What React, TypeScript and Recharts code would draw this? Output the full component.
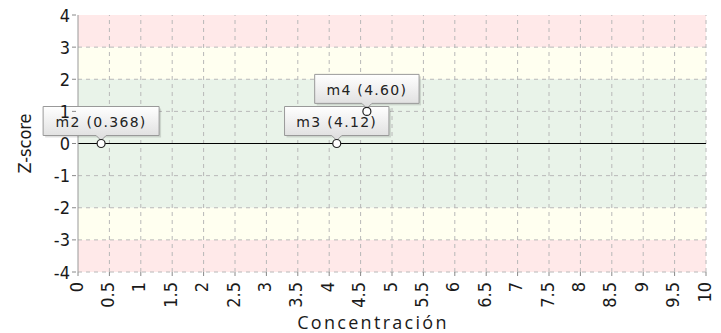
import { ScatterChart, Scatter, XAxis, YAxis, ReferenceArea, ReferenceLine } from "recharts";

const markerNames = ["m2", "m3", "m4"];
const markerX = [0.368, 4.12, 4.6];
const markerY = [0, 0, 1];
const markerText = ["0.368", "4.12", "4.60"];

const xTicks = [0, 0.5, 1, 1.5, 2, 2.5, 3, 3.5, 4, 4.5, 5, 5.5, 6, 6.5, 7, 7.5, 8, 8.5, 9, 9.5, 10];
const yTicks = [-4, -3, -2, -1, 0, 1, 2, 3, 4];

const bands = [
  { from: 3, to: 4, color: "#ffe9e9" },
  { from: 2, to: 3, color: "#fffff0" },
  { from: -2, to: 2, color: "#e9f3e9" },
  { from: -3, to: -2, color: "#fffff0" },
  { from: -4, to: -3, color: "#ffe9e9" },
];

const data = markerNames.map((name, i) => ({
  name,
  x: markerX[i],
  y: markerY[i],
  label: `${name} (${markerText[i]})`,
}));

const tickFont = "'DejaVu Sans Condensed', 'DejaVu Sans', sans-serif";

function XTick({ x, y, payload }: any) {
  return (
    <g>
      <line x1={x} y1={y - 8} x2={x} y2={y - 4} stroke="#888" />
      <text
        x={x}
        y={y}
        transform={`rotate(-90 ${x} ${y + 2})`}
        textAnchor="end"
        dominantBaseline="central"
        fontSize={18}
        fontFamily={tickFont}
        fill="#1a1a1a"
      >
        {payload.value}
      </text>
    </g>
  );
}

function YTick({ x, y, payload }: any) {
  return (
    <g>
      <line x1={x + 2} y1={y} x2={x + 6} y2={y} stroke="#888" />
      <text x={x} y={y} textAnchor="end" dominantBaseline="central" fontSize={18} fontFamily={tickFont} fill="#1a1a1a">
        {payload.value}
      </text>
    </g>
  );
}

function Marker({ cx, cy, payload }: any) {
  const label: string = payload.label;
  const w = label.length * 11.6;
  const h = 29;
  const bottom = cy - 8;
  const top = bottom - h;
  const left = cx - w / 2;
  return (
    <g>
      <rect x={left + 2} y={top + 2} width={w} height={h} fill="#000" opacity={0.12} />
      <path
        d={`M${left},${top} H${left + w} V${bottom} H${cx + 5} L${cx},${cy - 3} L${cx - 5},${bottom} H${left} Z`}
        fill="url(#calloutGrad)"
        stroke="#999"
      />
      <text
        x={cx}
        y={top + h / 2 + 1}
        textAnchor="middle"
        dominantBaseline="central"
        fontSize={14}
        letterSpacing={1.3}
        fontFamily="'DejaVu Sans', sans-serif"
        fill="#222"
      >
        {label}
      </text>
      <circle cx={cx} cy={cy} r={4} fill="#fff" stroke="#222" strokeWidth={1.2} />
    </g>
  );
}

export default function App() {
  return (
    <div style={{ position: "absolute", left: 0, top: 0, width: 721, height: 333, background: "#fff" }}>
      <ScatterChart width={721} height={333} margin={{ top: 15, right: 15, left: 0, bottom: 0 }}>
        <defs>
          <linearGradient id="calloutGrad" x1="0" y1="0" x2="0" y2="1">
            <stop offset="0%" stopColor="#ffffff" />
            <stop offset="100%" stopColor="#dcdcdc" />
          </linearGradient>
        </defs>
        {bands.map((b, i) => (
          <ReferenceArea key={i} y1={b.from} y2={b.to} x1={0} x2={10} fill={b.color} fillOpacity={1} stroke="none" ifOverflow="visible" />
        ))}
        {xTicks.slice(1).map((t) => (
          <ReferenceLine key={`gx${t}`} x={t} stroke="#b8b8b8" strokeDasharray="4 4" />
        ))}
        {yTicks.slice(0, -1).map((t) => (
          <ReferenceLine key={`gy${t}`} y={t} stroke="#b8b8b8" strokeDasharray="4 4" />
        ))}
        <XAxis
          type="number"
          dataKey="x"
          domain={[0, 10]}
          ticks={xTicks}
          interval={0}
          height={61}
          axisLine={false}
          tickLine={false}
          tick={<XTick />}
          label={{
            value: "Concentración",
            position: "insideBottom",
            offset: 4,
            dx: -19,
            fontSize: 18,
            letterSpacing: 2.3,
            fontFamily: "'Open Sans', sans-serif",
            fill: "#1a1a1a",
          }}
        />
        <YAxis
          type="number"
          dataKey="y"
          domain={[-4, 4]}
          ticks={yTicks}
          interval={0}
          width={78}
          axisLine={{ stroke: "#999" }}
          tickLine={false}
          tick={<YTick />}
          label={{
            value: "Z-score",
            angle: -90,
            position: "insideLeft",
            offset: 25,
            fontSize: 18,
            fontFamily: tickFont,
            fill: "#1a1a1a",
            style: { textAnchor: "middle" },
          }}
        />
        <ReferenceLine y={0} stroke="#000" strokeWidth={1.2} segment={[{ x: 0, y: 0 }, { x: 10.1, y: 0 }]} ifOverflow="visible" />
        <Scatter data={data} isAnimationActive={false} shape={<Marker />} />
      </ScatterChart>
    </div>
  );
}
